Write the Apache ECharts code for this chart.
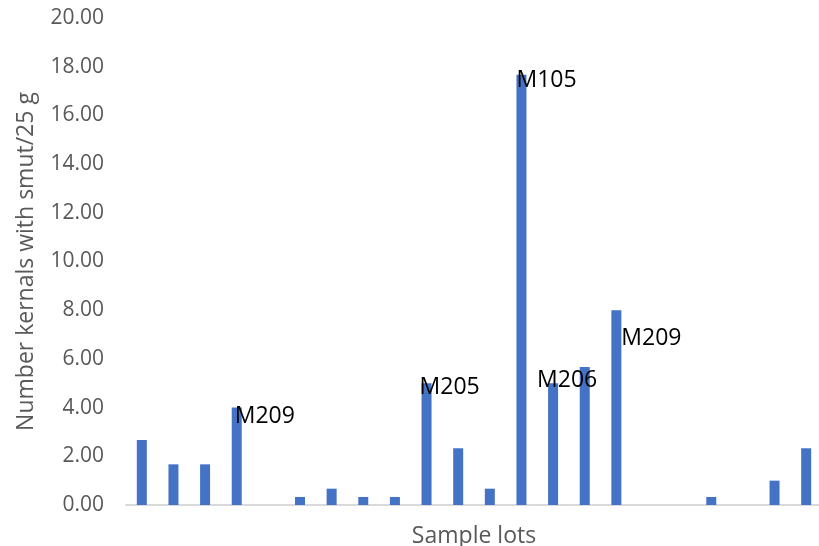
<!DOCTYPE html>
<html>
<head>
<meta charset="utf-8">
<script src="https://cdn.jsdelivr.net/npm/echarts@6/dist/echarts.min.js"></script>
<style>
  html, body { margin: 0; padding: 0; background: #fff; }
  #chart { width: 819px; height: 546px; }
</style>
</head>
<body>
<div id="chart"></div>
<script>
// Sample lots (unnamed on the axis) and smut counts per 25 g
const lots = ['1','2','3','4','5','6','7','8','9','10','11','12','13','14','15','16','17','18','19','20','21','22'];
const smutCounts = [2.67, 1.67, 1.67, 4.00, 0, 0.33, 0.67, 0.33, 0.33, 5.00, 2.33, 0.67, 17.67, 5.00, 5.67, 8.00, 0, 0, 0.33, 0, 1.00, 2.33];
const lotLabels = ['', '', '', 'M209', '', '', '', '', '', 'M205', '', '', 'M105', 'M206', '', 'M209', '', '', '', '', '', ''];
const yTicks = { min: 0, max: 20, interval: 2 };

// Pixel offsets of each callout from the top-left corner of its bar
const labelOffsets = { 3: [3, 9], 9: [-2, 4], 12: [0, 6], 13: [-11, -3], 15: [10, 28] };

const FONT = 'Open Sans';
const AXIS_GREY = '#595959';

const seriesData = smutCounts.map((v, i) => {
  const item = { value: v };
  if (lotLabels[i]) {
    item.label = {
      show: true,
      formatter: lotLabels[i],
      position: labelOffsets[i],
      align: 'left',
      verticalAlign: 'middle',
      color: '#000',
      fontFamily: FONT,
      fontSize: 23
    };
  }
  return item;
});

const chart = echarts.init(document.getElementById('chart'), null, { renderer: 'canvas' });
chart.setOption({
  animation: false,
  backgroundColor: '#fff',
  grid: { left: 126, top: 18, width: 696, height: 487, containLabel: false, outerBoundsMode: 'none' },
  xAxis: {
    type: 'category',
    data: lots,
    name: 'Sample lots',
    nameLocation: 'middle',
    nameGap: 20,
    nameTextStyle: { color: AXIS_GREY, fontFamily: FONT, fontSize: 23 },
    axisLine: { show: true, lineStyle: { color: '#d9d9d9', width: 2 } },
    axisTick: { show: false },
    axisLabel: { show: false },
    splitLine: { show: false }
  },
  yAxis: {
    type: 'value',
    min: yTicks.min,
    max: yTicks.max,
    interval: yTicks.interval,
    name: 'Number kernals with smut/25 g',
    nameLocation: 'middle',
    nameGap: 88,
    nameTextStyle: { color: AXIS_GREY, fontFamily: FONT, fontSize: 23 },
    axisLine: { show: false },
    axisTick: { show: false },
    splitLine: { show: false },
    axisLabel: {
      color: AXIS_GREY,
      fontFamily: FONT,
      fontSize: 21,
      margin: 22,
      formatter: v => v.toFixed(2)
    }
  },
  series: [{
    type: 'bar',
    data: seriesData,
    barWidth: 10,
    itemStyle: { color: '#4472C4' },
    label: { show: false }
  }]
});
</script>
</body>
</html>
